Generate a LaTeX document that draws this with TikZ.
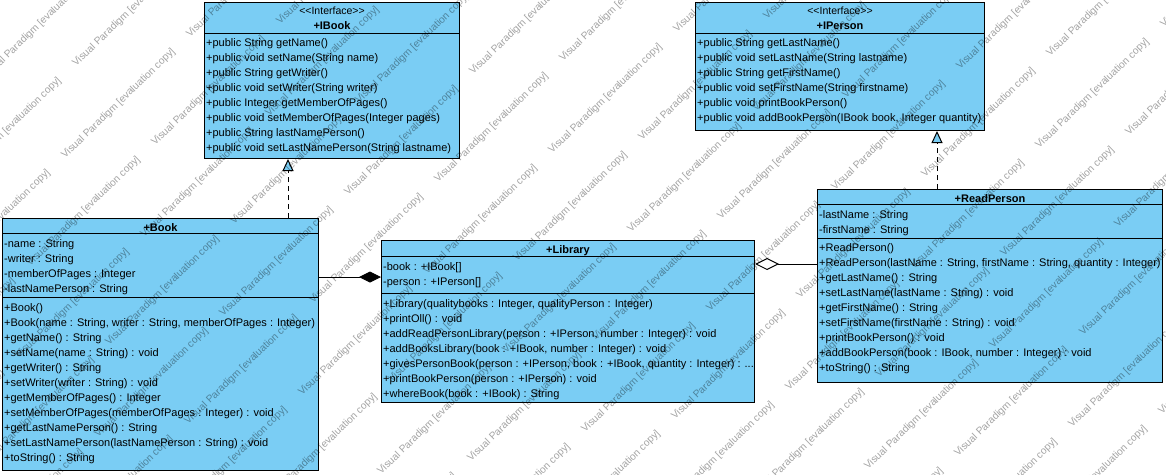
\documentclass[tikz,border=0pt]{standalone}
\usepackage{fontspec}
\setmainfont{Liberation Sans}
\newfontfamily\stereofont{Liberation Sans}
\usetikzlibrary{arrows.meta}
\definecolor{classblue}{RGB}{122,205,244}
\tikzstyle{classbox}=[draw=black,fill=classblue,line width=1pt,
                      inner sep=0pt,anchor=north west]
\tikzstyle{member}=[anchor=base west,inner sep=0pt,
                    font=\fontsize{11}{13}\selectfont]
\tikzstyle{title}=[anchor=base,inner sep=0pt,
                   font=\fontsize{11}{13}\selectfont\bfseries]
\tikzstyle{stereo}=[anchor=base,inner sep=0pt,
                    font=\stereofont\fontsize{10.5}{12}\selectfont]
\tikzstyle{realize}=[line width=1pt,dash pattern=on 5pt off 4pt,
                     -{Triangle[length=12pt,width=11pt,fill=classblue]}]
\tikzstyle{composite}=[line width=1pt,-{Diamond[length=22pt,width=11pt,fill=black]}]
\tikzstyle{aggregate}=[line width=1pt,-{Diamond[length=24pt,width=12pt,fill=white]}]
\tikzstyle{watermark}=[anchor=base west,inner sep=0pt,rotate=44,text=black,
                       text opacity=0.36,font=\fontsize{10.2}{12}\selectfont]

\begin{document}
\begin{tikzpicture}[x=1pt,y=-1pt]
    \fill[white] (0,0) rectangle (1166,474);
    \useasboundingbox (0,0) rectangle (1166,474);

    % interfaces
    \node (ibook) at (204,2) [classbox,minimum width=255,minimum height=156]{};
    \node (ibook-st) at (ibook.north |- 0,14) [stereo]{<<Interface>>};
    \node (ibook-name) at (ibook.north |- 0,29) [title]{+IBook};
    \draw (ibook.west |- 0,33) -- (ibook.east |- 0,33);
    \foreach \txt [count=\i from 0] in {+public String getName(),
        +public void setName(String name), +public String getWriter(),
        +public void setWriter(String writer), +public Integer getMemberOfPages(),
        +public void setMemberOfPages(Integer pages), +public String lastNamePerson(),
        +public void setLastNamePerson(String lastname)}
      \node (ibook-m\i) at (206,46+15*\i) [member]{\txt};

    \node (iperson) at (695,2) [classbox,minimum width=289,minimum height=128]{};
    \node (iperson-st) at (iperson.north |- 0,14) [stereo]{<<Interface>>};
    \node (iperson-name) at (iperson.north |- 0,29) [title]{+IPerson};
    \draw (iperson.west |- 0,33) -- (iperson.east |- 0,33);
    \foreach \txt [count=\i from 0] in {+public String getLastName(),
        +public void setLastName(String lastname), +public String getFirstName(),
        +public void setFirstName(String firstname), +public void printBookPerson(),
        {+public void addBookPerson(IBook book, Integer quantity)}}
      \node (iperson-m\i) at (697,46+15*\i) [member]{\txt};

    % classes
    \node (book) at (2,218) [classbox,minimum width=316,minimum height=252]{};
    \node (book-name) at (book.north |- 0,231) [title]{+Book};
    \draw (book.west |- 0,233) -- (book.east |- 0,233);
    \draw (book.west |- 0,297) -- (book.east |- 0,297);
    \foreach \txt [count=\i from 0] in {-name : String, -writer : String,
        -memberOfPages : Integer, -lastNamePerson : String}
      \node (book-a\i) at (4,247+15*\i) [member]{\txt};
    \foreach \txt [count=\i from 0] in {+Book(),
        {+Book(name : String, writer : String, memberOfPages : Integer)},
        +getName() : String, +setName(name : String) : void,
        +getWriter() : String, +setWriter(writer : String) : void,
        +getMemberOfPages() : Integer,
        +setMemberOfPages(memberOfPages : Integer) : void,
        +getLastNamePerson() : String,
        +setLastNamePerson(lastNamePerson : String) : void,
        +toString() : String}
      \node (book-m\i) at (4,311+15*\i) [member]{\txt};

    \node (library) at (381,240) [classbox,minimum width=373,minimum height=162]{};
    \node (library-name) at (library.north |- 0,253) [title]{+Library};
    \draw (library.west |- 0,256) -- (library.east |- 0,256);
    \draw (library.west |- 0,293) -- (library.east |- 0,293);
    \foreach \txt [count=\i from 0] in {-book : +IBook[], -person : +IPerson[]}
      \node (library-a\i) at (383,270+15*\i) [member]{\txt};
    \foreach \txt [count=\i from 0] in {
        {+Library(qualitybooks : Integer, qualityPerson : Integer)},
        +printOll() : void,
        {+addReadPersonLibrary(person : +IPerson, number : Integer) : void},
        {+addBooksLibrary(book : +IBook, number : Integer) : void},
        {+givesPersonBook(person : +IPerson, book : +IBook, quantity : Integer) : .{}.{}.},
        +printBookPerson(person : +IPerson) : void,
        +whereBook(book : +IBook) : String}
      \node (library-m\i) at (383,307+15*\i) [member]{\txt};

    \node (readperson) at (817,189) [classbox,minimum width=345,minimum height=193]{};
    \node (readperson-name) at (readperson.north |- 0,202) [title]{+ReadPerson};
    \draw (readperson.west |- 0,204) -- (readperson.east |- 0,204);
    \draw (readperson.west |- 0,238) -- (readperson.east |- 0,238);
    \foreach \txt [count=\i from 0] in {-lastName : String, -firstName : String}
      \node (readperson-a\i) at (819,218+15*\i) [member]{\txt};
    \foreach \txt [count=\i from 0] in {+ReadPerson(),
        {+ReadPerson(lastName : String, firstName : String, quantity : Integer)},
        +getLastName() : String, +setLastName(lastName : String) : void,
        +getFirstName() : String, +setFirstName(firstName : String) : void,
        +printBookPerson() : void,
        {+addBookPerson(book : IBook, number : Integer) : void},
        +toString() : String}
      \node (readperson-m\i) at (819,251+15*\i) [member]{\txt};

    % relations
    \draw[realize] (book.north -| 288,0) -- (ibook.south -| 288,0);
    \draw[realize] (readperson.north -| 937,0) -- (iperson.south -| 937,0);
    \draw[composite] (book.east |- 0,277) -- (library.west |- 0,277);
    \draw[aggregate] (readperson.west |- 0,264) -- (library.east |- 0,264);

    % evaluation watermark
    \begin{scope}
      \clip (0,0) rectangle (1166,474);
      \foreach \m in {-4,...,4}
        \foreach \k in {-5,...,8}
          \foreach \dx/\dy [count=\n] in {0/0,90/-13}
            \node (wm-\m-\k-\n) at ({473+125*\m+79*\k+\dx},{75-121*\m+79*\k+\dy})
              [watermark]{Visual Paradigm [evaluation copy]};
    \end{scope}
\end{tikzpicture}
\end{document}
